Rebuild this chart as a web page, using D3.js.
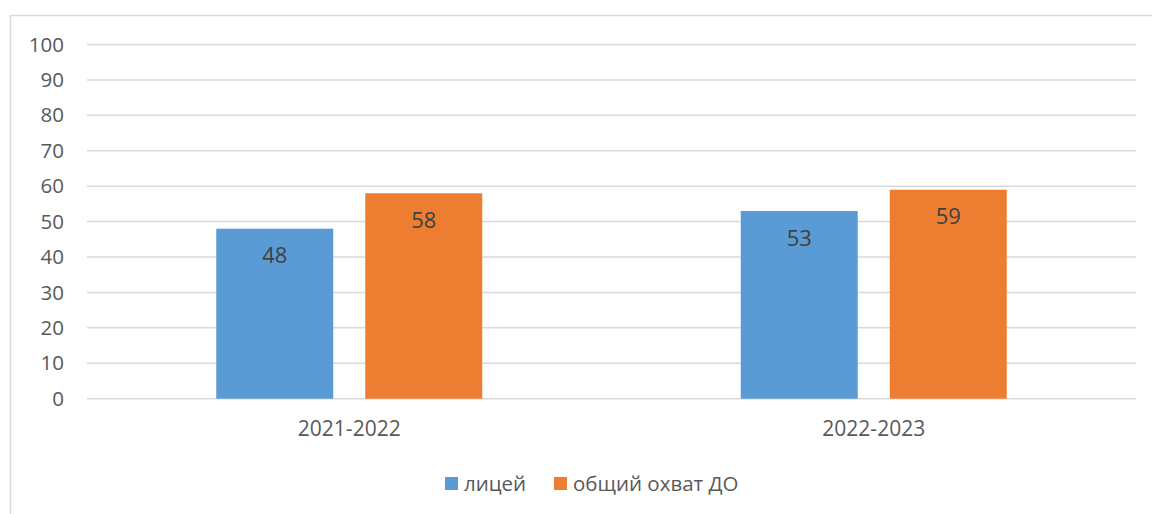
<!DOCTYPE html>
<html>
<head>
<meta charset="utf-8">
<script src="https://cdn.jsdelivr.net/npm/d3@7"></script>
<style>
  body { margin: 0; background: #fff; }
  svg { display: block; font-family: "Open Sans", sans-serif; }
</style>
</head>
<body>
<svg id="chart" width="1152" height="514"></svg>
<script>
'use strict';

var categories = ['2021-2022', '2022-2023'];
var seriesNames = ['лицей', 'общий охват ДО'];
var seriesValues = [
  [48, 53],
  [58, 59]
];
var seriesColors = ['#5B9BD5', '#ED7D31'];
var yTicks = [0, 10, 20, 30, 40, 50, 60, 70, 80, 90, 100];

var svg = d3.select('#chart');

//Plot area
var plot = { left: 87, right: 1136, top: 44.5, bottom: 398.7 };

//Outer chart frame (runs past the right and bottom edges)
svg.append('rect')
  .attr('x', 10.5).attr('y', 15.5)
  .attr('width', 1160).attr('height', 520)
  .attr('fill', 'none').attr('stroke', '#D9D9D9').attr('stroke-width', 1.5);

//Scales
var xScale = d3.scaleBand().domain(categories).range([plot.left, plot.right]);
var bw = xScale.bandwidth();
var groupW = bw * 266 / 524.5;
var x1 = d3.scaleBand().domain(seriesNames)
  .range([(bw - groupW) / 2, (bw + groupW) / 2])
  .paddingInner(0.215);
var yScale = d3.scaleLinear().domain([0, 100]).range([plot.bottom, plot.top]);

//Gridlines
svg.append('g').classed('grid', true)
  .selectAll('line').data(yTicks).enter().append('line')
  .attr('x1', plot.left).attr('x2', plot.right)
  .attr('y1', function (d) { return yScale(d); })
  .attr('y2', function (d) { return yScale(d); })
  .attr('stroke', '#D9D9D9').attr('stroke-width', 1.5);

//Y axis labels
var yAxis = svg.append('g').classed('y-axis', true)
  .attr('transform', 'translate(' + (plot.left - 23) + ',0)')
  .call(d3.axisLeft(yScale).tickValues(yTicks).tickSize(0).tickPadding(0));
yAxis.select('.domain').remove();
yAxis.selectAll('text').attr('fill', '#595959').style('font-size', '20.5px')
  .style('font-family', '"Open Sans", sans-serif');

//X axis labels
var xAxis = svg.append('g').classed('x-axis', true)
  .attr('transform', 'translate(0,' + (plot.bottom + 22) + ')')
  .call(d3.axisBottom(xScale).tickSize(0).tickPadding(0));
xAxis.select('.domain').remove();
xAxis.selectAll('text').attr('fill', '#595959').style('font-size', '21px')
  .style('font-family', '"Open Sans", sans-serif');

//Bars
var rows = [];
seriesNames.forEach(function (s, si) {
  categories.forEach(function (c, ci) {
    rows.push({ series: s, cat: c, value: seriesValues[si][ci], color: seriesColors[si] });
  });
});

var bars = svg.append('g').classed('bars', true);
bars.selectAll('rect').data(rows).enter().append('rect')
  .attr('x', function (d) { return xScale(d.cat) + x1(d.series); })
  .attr('y', function (d) { return yScale(d.value); })
  .attr('width', x1.bandwidth())
  .attr('height', function (d) { return yScale(0) - yScale(d.value); })
  .attr('fill', function (d) { return d.color; });

//Data labels (inside end)
bars.selectAll('text').data(rows).enter().append('text')
  .attr('x', function (d) { return xScale(d.cat) + x1(d.series) + x1.bandwidth() / 2; })
  .attr('y', function (d) { return yScale(d.value) + 27; })
  .attr('dy', '0.35em')
  .attr('text-anchor', 'middle')
  .attr('fill', '#404040')
  .style('font-size', '22px')
  .text(function (d) { return d.value; });

//Legend
var legendX = [445, 554];
var legend = svg.append('g').classed('legend', true);
var items = legend.selectAll('g').data(seriesNames).enter().append('g')
  .attr('transform', function (d, i) { return 'translate(' + legendX[i] + ',477)'; });
items.append('rect').attr('width', 13).attr('height', 13)
  .attr('fill', function (d, i) { return seriesColors[i]; });
items.append('text').attr('x', 19).attr('y', 6.5).attr('dy', '0.35em')
  .attr('fill', '#595959').style('font-size', '20.5px')
  .text(function (d) { return d; });
</script>
</body>
</html>
